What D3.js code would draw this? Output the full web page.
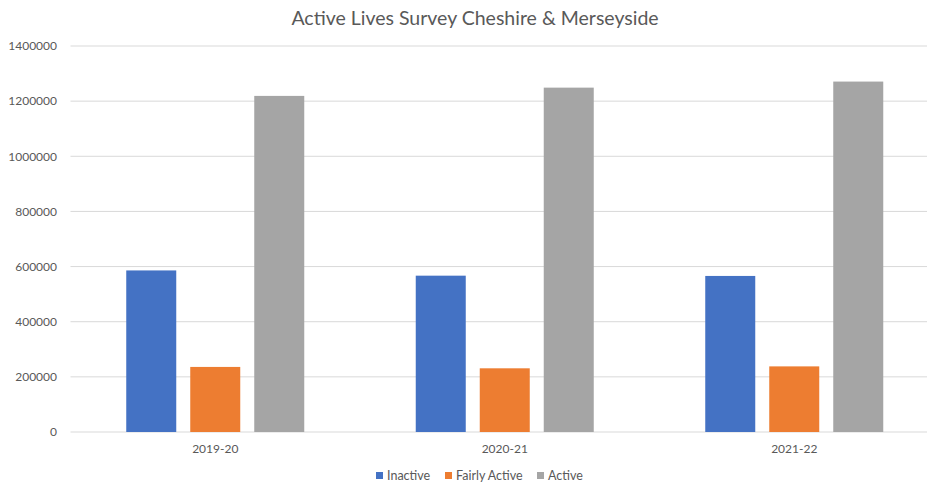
<!DOCTYPE html>
<html>
<head>
<meta charset="utf-8">
<script src="https://cdn.jsdelivr.net/npm/d3@7"></script>
<style>
  html, body { margin: 0; padding: 0; background: #fff; }
  svg { display: block; }
  text { font-family: Lato, "Open Sans", sans-serif; }
</style>
</head>
<body>
<svg id="chart" width="927" height="484"></svg>
<script>
const categories = ["2019-20", "2020-21", "2021-22"];
const seriesNames = ["Inactive", "Fairly Active", "Active"];
const inactive = [586000, 567000, 566000];
const fairlyActive = [236000, 231000, 238000];
const active = [1219000, 1249000, 1271000];
const yTicks = [0, 200000, 400000, 600000, 800000, 1000000, 1200000, 1400000];
const colors = ["#4472C4", "#ED7D31", "#A5A5A5"];
const title = "Active Lives Survey Cheshire & Merseyside";

const seriesValues = [inactive, fairlyActive, active];
const svg = d3.select("#chart");

const plotLeft = 70.5, plotTop = 46, plotBottom = 432;
const step = 289.5;
const x = d3.scaleBand().domain(categories).range([plotLeft, plotLeft + step * categories.length]).padding(0);
const inner = d3.scaleBand().domain(seriesNames).range([55.75, step - 55.75]).paddingInner(14/64).paddingOuter(0);
const y = d3.scaleLinear().domain([0, 1400000]).range([plotBottom, plotTop]);

// gridlines
svg.append("g").selectAll("line").data(yTicks).join("line")
  .attr("x1", plotLeft).attr("x2", 927)
  .attr("y1", d => y(d)).attr("y2", d => y(d))
  .attr("stroke", "#d9d9d9").attr("stroke-width", 1);

// y axis labels
const yAxis = d3.axisLeft(y).tickValues(yTicks).tickFormat(d3.format("d")).tickSize(0).tickPadding(0);
const gy = svg.append("g").attr("transform", "translate(57,0)").call(yAxis);
gy.select(".domain").remove();
gy.selectAll("text").attr("fill", "#595959").style("font-size", "12px").style("font-family", "Lato, sans-serif");

// bars
const groups = svg.append("g").selectAll("g").data(categories).join("g")
  .attr("transform", d => `translate(${x(d)},0)`);
groups.selectAll("rect").data((c, i) => seriesNames.map((s, j) => ({s, j, v: seriesValues[j][i]})))
  .join("rect")
  .attr("x", d => inner(d.s))
  .attr("width", inner.bandwidth())
  .attr("y", d => y(d.v))
  .attr("height", d => y(0) - y(d.v))
  .attr("fill", d => colors[d.j]);

// x axis labels
const xAxis = d3.axisBottom(x).tickSize(0).tickPadding(0);
const gx = svg.append("g").attr("transform", `translate(0,${plotBottom + 12})`).call(xAxis);
gx.select(".domain").remove();
gx.selectAll("text").attr("fill", "#595959").style("font-size", "12px").style("font-family", "Lato, sans-serif");

// title
svg.append("text").attr("x", 475).attr("y", 25).attr("text-anchor", "middle")
  .attr("fill", "#595959").style("font-size", "19.5px").text(title);

// legend
const legendX = [376, 445, 537];
const lg = svg.append("g").selectAll("g").data(seriesNames).join("g")
  .attr("transform", (d, i) => `translate(${legendX[i]},476)`);
lg.append("rect").attr("x", 0).attr("y", -4).attr("width", 7).attr("height", 7).attr("fill", (d, i) => colors[i]);
lg.append("text").attr("x", 11).attr("y", 0).attr("dy", "0.35em").attr("fill", "#595959")
  .style("font-size", "12.5px").text(d => d);
</script>
</body>
</html>
